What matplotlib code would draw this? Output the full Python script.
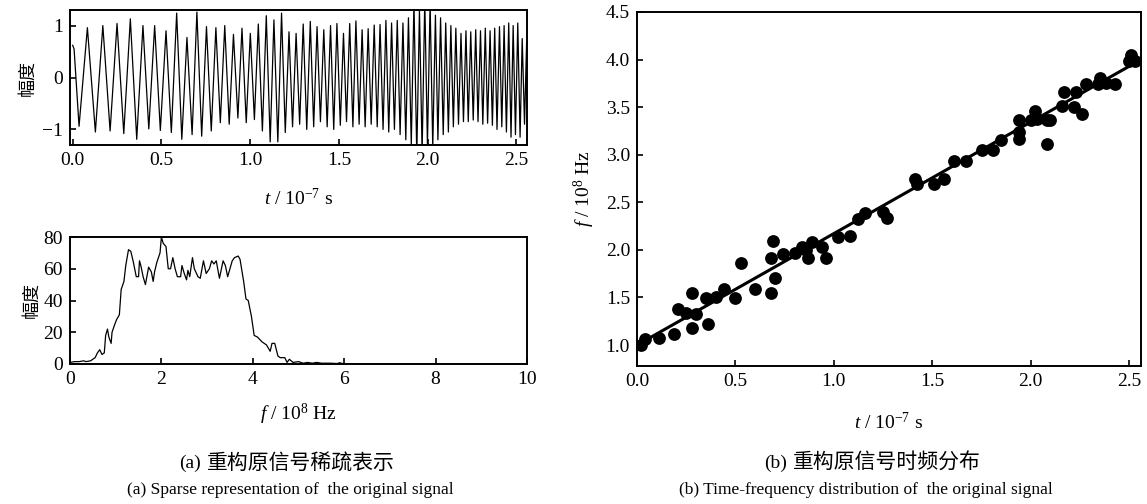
import matplotlib
matplotlib.use("Agg")
import matplotlib.pyplot as plt
import numpy as np

# ---------------- data ----------------
# reconstructed signal: turning points of the sampled waveform (t in 1e-7 s)
wave_t = [0.000, 0.008, 0.036, 0.083, 0.128, 0.170, 0.211, 0.250, 0.288, 0.325,
          0.361, 0.396, 0.429, 0.462, 0.494, 0.526, 0.556, 0.586, 0.615, 0.644,
          0.673, 0.700, 0.727, 0.754, 0.781, 0.807, 0.832, 0.857, 0.882, 0.906,
          0.931, 0.954, 0.978, 1.001, 1.024, 1.046, 1.069, 1.091, 1.113, 1.134,
          1.156, 1.177, 1.198, 1.219, 1.239, 1.259, 1.279, 1.299, 1.319, 1.339,
          1.358, 1.377, 1.396, 1.415, 1.434, 1.453, 1.471, 1.489, 1.508, 1.526,
          1.543, 1.561, 1.579, 1.596, 1.614, 1.631, 1.648, 1.665, 1.682, 1.699,
          1.716, 1.732, 1.749, 1.765, 1.781, 1.797, 1.813, 1.829, 1.845, 1.861,
          1.877, 1.892, 1.908, 1.923, 1.939, 1.954, 1.969, 1.984, 1.999, 2.014,
          2.029, 2.044, 2.058, 2.073, 2.088, 2.102, 2.117, 2.131, 2.145, 2.159,
          2.174, 2.188, 2.202, 2.216, 2.229, 2.243, 2.257, 2.271, 2.284, 2.298,
          2.311, 2.325, 2.338, 2.352, 2.365, 2.378, 2.391, 2.405, 2.418, 2.431,
          2.444, 2.457, 2.470, 2.482, 2.495, 2.508, 2.521, 2.533, 2.546, 2.558,
          2.560]
wave_v = [0.62, 0.55, -0.94, 0.96, -1.05, 1.00, -1.03, 1.04, -1.08, 1.13,
          -1.19, 1.00, -0.99, 1.00, -1.02, 0.90, -1.06, 1.24, -1.19, 0.77,
          -1.10, 1.26, -1.13, 0.98, -1.03, 0.96, -0.87, 1.00, -0.90, 0.83,
          -0.78, 0.95, -0.87, 0.85, -0.81, 1.03, -1.03, 1.19, -1.24, 1.11,
          -1.24, 1.24, -1.06, 0.88, -0.95, 0.85, -0.90, 1.03, -1.00, 1.08,
          -0.95, 0.98, -0.85, 0.92, -0.95, 1.00, -1.00, 1.04, -0.92, 0.85,
          -0.85, 1.04, -0.95, 1.09, -0.90, 0.92, -0.95, 0.94, -0.90, 1.01,
          -0.95, 1.02, -1.00, 1.10, -1.05, 1.05, -1.00, 1.10, -1.10, 1.05,
          -1.20, 1.15, -1.30, 1.45, -1.50, 1.30, -1.45, 1.50, -1.30, 1.45,
          -1.35, 1.20, -1.20, 1.15, -1.10, 1.05, -1.05, 1.00, -0.95, 0.95,
          -0.90, 0.85, -0.85, 0.90, -0.85, 0.88, -0.82, 0.92, -0.85, 0.90,
          -0.90, 0.95, -0.88, 0.90, -0.92, 0.95, -1.00, 0.98, -0.95, 1.00,
          -1.05, 1.05, -1.15, 1.00, -1.10, 1.05, -1.15, 0.75, -0.90, 0.70,
          -0.45]

# sparse spectrum (f in 1e8 Hz)
spec_f = [0.00, 0.10, 0.20, 0.30, 0.35, 0.45, 0.50, 0.55, 0.60, 0.65,
          0.70, 0.75, 0.78, 0.82, 0.85, 0.90, 0.92, 0.98, 1.02, 1.08,
          1.12, 1.18, 1.22, 1.28, 1.33, 1.38, 1.45, 1.50, 1.52, 1.55,
          1.60, 1.65, 1.72, 1.78, 1.82, 1.85, 1.90, 1.97, 2.00, 2.04,
          2.10, 2.15, 2.20, 2.25, 2.30, 2.35, 2.42, 2.45, 2.50, 2.55,
          2.58, 2.62, 2.68, 2.72, 2.80, 2.85, 2.92, 2.98, 3.05, 3.10,
          3.15, 3.20, 3.27, 3.35, 3.40, 3.45, 3.50, 3.55, 3.60, 3.68,
          3.72, 3.80, 3.85, 3.90, 3.97, 4.03, 4.10, 4.20, 4.30, 4.38,
          4.42, 4.48, 4.55, 4.60, 4.70, 4.75, 4.80, 4.88, 5.00, 5.10,
          5.20, 5.30, 5.40, 5.50, 5.70, 5.85, 5.90, 6.00, 8.00, 10.00]
spec_a = [1.0, 1.5, 1.5, 2.0, 1.5, 2.0, 3.0, 4.0, 7.0, 9.0,
          6.0, 7.0, 18.0, 22.0, 17.0, 13.0, 20.0, 25.0, 28.0, 31.0,
          47.0, 52.0, 62.0, 72.0, 71.0, 65.0, 55.0, 55.0, 65.0, 62.0,
          55.0, 50.0, 61.0, 58.0, 52.0, 58.0, 64.0, 70.0, 80.0, 76.0,
          74.0, 60.0, 60.0, 67.0, 60.0, 55.0, 55.0, 62.0, 57.0, 53.0,
          59.0, 55.0, 67.0, 60.0, 55.0, 54.0, 65.0, 57.0, 60.0, 65.0,
          63.0, 65.0, 54.0, 65.0, 62.0, 55.0, 60.0, 65.0, 67.0, 68.0,
          66.0, 52.0, 41.0, 40.0, 30.0, 18.0, 17.0, 14.0, 12.0, 8.0,
          13.0, 13.0, 5.0, 4.0, 4.0, 1.0, 3.0, 1.0, 1.5, 0.5,
          1.0, 0.5, 1.0, 0.5, 0.5, 0.3, 0.8, 0.0, 0.0, 0.0]

# time-frequency points (t in 1e-7 s, f in 1e8 Hz)
tf_t = [0.02, 0.04, 0.11, 0.19, 0.21, 0.25, 0.28, 0.28, 0.30, 0.35,
        0.36, 0.40, 0.44, 0.50, 0.53, 0.60, 0.68, 0.68, 0.69, 0.70,
        0.74, 0.80, 0.84, 0.86, 0.87, 0.89, 0.94, 0.96, 1.02, 1.08,
        1.12, 1.16, 1.25, 1.27, 1.41, 1.42, 1.51, 1.56, 1.61, 1.67,
        1.75, 1.81, 1.85, 1.94, 1.94, 1.94, 2.00, 2.02, 2.03, 2.08,
        2.08, 2.10, 2.16, 2.17, 2.22, 2.23, 2.26, 2.28, 2.34, 2.35,
        2.38, 2.43, 2.50, 2.51, 2.53]
tf_f = [1.00, 1.06, 1.07, 1.12, 1.38, 1.34, 1.18, 1.55, 1.33, 1.49,
        1.22, 1.50, 1.59, 1.49, 1.86, 1.59, 1.55, 1.92, 2.09, 1.70,
        1.96, 1.97, 2.03, 2.00, 1.92, 2.08, 2.03, 1.92, 2.14, 2.15,
        2.33, 2.39, 2.40, 2.34, 2.75, 2.69, 2.69, 2.75, 2.93, 2.93,
        3.05, 3.05, 3.16, 3.17, 3.24, 3.36, 3.36, 3.46, 3.38, 3.36,
        3.11, 3.37, 3.51, 3.66, 3.50, 3.66, 3.43, 3.74, 3.74, 3.81,
        3.75, 3.74, 3.98, 4.05, 3.99]

# fitted chirp line end points
fit_t = [0.0, 2.56]
fit_f = [1.0, 4.0]

# ---------------- style ----------------
plt.rcParams["font.family"] = ["Liberation Serif", "Noto Sans CJK SC"]
plt.rcParams["mathtext.fontset"] = "custom"
plt.rcParams["mathtext.rm"] = "Liberation Serif"
plt.rcParams["mathtext.it"] = "Liberation Serif:italic"
plt.rcParams["font.size"] = 14
plt.rcParams["axes.linewidth"] = 1.4

W, H = 1147, 504
fig = plt.figure(figsize=(W / 100, H / 100), dpi=100)


def box(x0, y0, x1, y1):
    return [x0 / W, 1 - y1 / H, (x1 - x0) / W, (y1 - y0) / H]


def style(ax):
    ax.tick_params(direction="in", length=4, width=1.2, top=False, right=False,
                   labelsize=14, pad=5)


cjk = ["Noto Sans CJK SC", "Liberation Serif"]

# (a) top: waveform
ax1 = fig.add_axes(box(70, 10, 527, 145))
ax1.plot(wave_t, wave_v, color="black", lw=0.9)
ax1.set_xlim(-0.015, 2.56)
ax1.set_ylim(-1.3, 1.3)
ax1.set_xticks([0.0, 0.5, 1.0, 1.5, 2.0, 2.5])
ax1.set_xticklabels(["0.0", "0.5", "1.0", "1.5", "2.0", "2.5"])
ax1.set_yticks([-1, 0, 1])
ax1.set_yticklabels(["\u22121", "0", "1"])
style(ax1)
ax1.set_xlabel("$t$ / 10$^{\u22127}$ s", fontsize=14, labelpad=14)
ax1.set_ylabel("幅度", family=cjk, fontsize=13, labelpad=4)

# (a) bottom: spectrum
ax2 = fig.add_axes(box(70, 237, 527, 364))
ax2.plot(spec_f, spec_a, color="black", lw=0.9)
ax2.set_xlim(0, 10)
ax2.set_ylim(0, 80)
ax2.set_xticks([0, 2, 4, 6, 8, 10])
ax2.set_yticks([0, 20, 40, 60, 80])
style(ax2)
ax2.set_xlabel("$f$ / 10$^{8}$ Hz", fontsize=14, labelpad=10)
ax2.set_ylabel("幅度", family=cjk, fontsize=13, labelpad=2)

# (b) time-frequency distribution
ax3 = fig.add_axes(box(637, 12, 1141, 366))
ax3.plot(fit_t, fit_f, color="black", lw=2.2, zorder=2)
ax3.scatter(tf_t, tf_f, s=85, color="black", zorder=3, linewidths=0)
ax3.set_xlim(0, 2.56)
ax3.set_ylim(0.78, 4.5)
ax3.set_xticks([0.0, 0.5, 1.0, 1.5, 2.0, 2.5])
ax3.set_xticklabels(["0.0", "0.5", "1.0", "1.5", "2.0", "2.5"])
ax3.set_yticks([1.0, 1.5, 2.0, 2.5, 3.0, 3.5, 4.0, 4.5])
ax3.set_yticklabels(["1.0", "1.5", "2.0", "2.5", "3.0", "3.5", "4.0", "4.5"])
style(ax3)
ax3.set_xlabel("$t$ / 10$^{\u22127}$ s", fontsize=14, labelpad=16)
ax3.set_ylabel("$f$ / 10$^{8}$ Hz", fontsize=14, labelpad=6)

# captions: serif label prefix followed by the Chinese title
def caption(prefix, title, x_prefix_right, x_title_left, y):
    fig.text(x_prefix_right / W, 1 - y / H, prefix, ha="right", va="center",
             fontsize=14)
    fig.text(x_title_left / W, 1 - y / H, title, ha="left", va="center",
             fontsize=15, family=cjk)


caption("(a)", "重构原信号稀疏表示", 201, 207, 463)
caption("(b)", "重构原信号时频分布", 787, 793, 463)
fig.text(290 / W, 1 - 490 / H, "(a) Sparse representation of  the original signal",
         ha="center", va="center", fontsize=12.5)
fig.text(866 / W, 1 - 490 / H, "(b) Time-frequency distribution of  the original signal",
         ha="center", va="center", fontsize=12.5)

fig.savefig("out.png", dpi=100)
